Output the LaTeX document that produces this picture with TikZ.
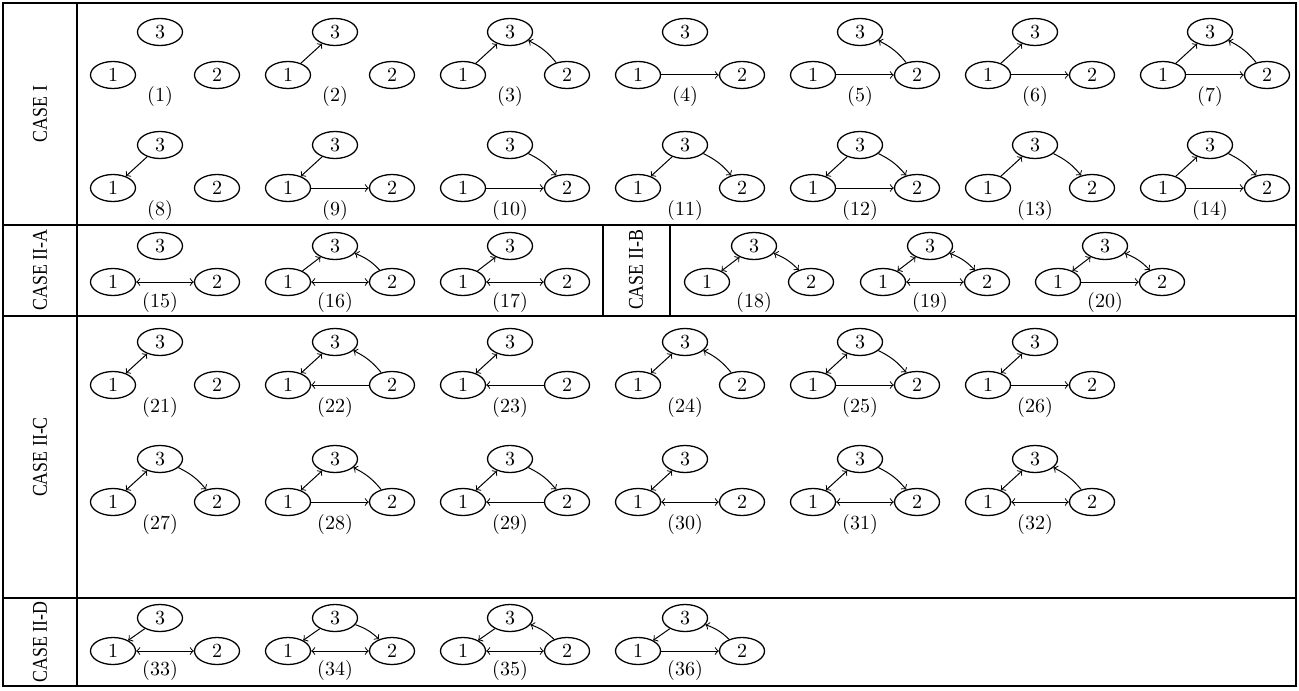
\documentclass[tikz,border=0pt]{standalone}
\usepackage{fontspec}
\newfontfamily\casefont{Liberation Serif}
\usetikzlibrary{shapes.geometric}
\tikzset{
  vtx/.style={draw,ellipse,line width=0.65pt,minimum width=22.5pt,minimum height=13.5pt,inner sep=0pt,font=\fontsize{10}{11}\selectfont},
  lbl/.style={inner sep=0pt,font=\fontsize{10}{11}\selectfont},
  arr/.style={line width=0.5pt},
  frame/.style={line width=0.55pt},
  casel/.style={rotate=90,inner sep=0pt,font=\casefont\fontsize{10.5}{12}\selectfont}
}
% name, x of node 1, y of nodes 1 2, label, rise of node 3, drop of label
\newcommand\gr[6]{%
  \node[vtx] (#1a) at (#2,#3) {1};
  \node[vtx] (#1b) at (#2+104,#3) {2};
  \node[vtx] (#1c) at (#2+47,#3-#5) {3};
  \node[lbl] (#1l) at (#2+47,#3+#6) {(#4)};
}
\newcommand\eAC[1]{\draw[arr,->] (#1a) -- (#1c);}
\newcommand\eCA[1]{\draw[arr,->] (#1c) -- (#1a);}
\newcommand\eACb[1]{\draw[arr,<->] (#1a) -- (#1c);}
\newcommand\eBC[1]{\draw[arr,->] (#1b) to[bend right=12] (#1c);}
\newcommand\eCB[1]{\draw[arr,->] (#1c) to[bend left=12] (#1b);}
\newcommand\eBCb[1]{\draw[arr,<->] (#1c) to[bend left=12] (#1b);}
\newcommand\eAB[1]{\draw[arr,->] (#1a) -- (#1b);}
\newcommand\eBA[1]{\draw[arr,->] (#1b) -- (#1a);}
\newcommand\eABb[1]{\draw[arr,<->] (#1a) -- (#1b);}
\begin{document}
\begin{tikzpicture}[x=0.5pt,y=-0.5pt]
\useasboundingbox (0,0) rectangle (1299,690);
% table
\draw[frame] (3,3) rectangle (1296,686);
\draw[frame] (77,3) -- (77,686);
\draw[frame] (3,225) -- (1296,225);
\draw[frame] (3,316) -- (1296,316);
\draw[frame] (3,598) -- (1296,598);
\draw[frame] (603,225) -- (603,316);
\draw[frame] (670,225) -- (670,316);
\node[casel] (c1) at (40,114) {\scalebox{0.85}[1]{CASE I}};
\node[casel] (c2) at (40,270) {\scalebox{0.85}[1]{CASE II-A}};
\node[casel] (c3) at (636,270) {\scalebox{0.85}[1]{CASE II-B}};
\node[casel] (c4) at (40,457) {\scalebox{0.85}[1]{CASE II-C}};
\node[casel] (c5) at (40,642) {\scalebox{0.85}[1]{CASE II-D}};
% CASE I row 1
\gr{g1}{113}{75}{1}{43}{22}
\gr{g2}{288}{75}{2}{43}{22} \eAC{g2}
\gr{g3}{463}{75}{3}{43}{22} \eAC{g3} \eBC{g3}
\gr{g4}{638}{75}{4}{43}{22} \eAB{g4}
\gr{g5}{813}{75}{5}{43}{22} \eAB{g5} \eBC{g5}
\gr{g6}{988}{75}{6}{43}{22} \eAC{g6} \eAB{g6}
\gr{g7}{1163}{75}{7}{43}{22} \eAC{g7} \eAB{g7} \eBC{g7}
% CASE I row 2
\gr{g8}{113}{188}{8}{43}{22} \eCA{g8}
\gr{g9}{288}{188}{9}{43}{22} \eCA{g9} \eAB{g9}
\gr{g10}{463}{188}{10}{43}{22} \eCB{g10} \eAB{g10}
\gr{g11}{638}{188}{11}{43}{22} \eCA{g11} \eCB{g11}
\gr{g12}{813}{188}{12}{43}{22} \eCA{g12} \eCB{g12} \eAB{g12}
\gr{g13}{988}{188}{13}{43}{22} \eAC{g13} \eCB{g13}
\gr{g14}{1163}{188}{14}{43}{22} \eAC{g14} \eCB{g14} \eAB{g14}
% CASE II-A
\gr{g15}{113}{282}{15}{36}{20} \eABb{g15}
\gr{g16}{288}{282}{16}{36}{20} \eAC{g16} \eBC{g16} \eABb{g16}
\gr{g17}{463}{282}{17}{36}{20} \eAC{g17} \eABb{g17}
% CASE II-B
\gr{g18}{707}{282}{18}{36}{20} \eACb{g18} \eBCb{g18}
\gr{g19}{883}{282}{19}{36}{20} \eACb{g19} \eBCb{g19} \eABb{g19}
\gr{g20}{1058}{282}{20}{36}{20} \eACb{g20} \eBCb{g20} \eAB{g20}
% CASE II-C row 1
\gr{g21}{113}{385}{21}{43}{22} \eACb{g21}
\gr{g22}{288}{385}{22}{43}{22} \eACb{g22} \eBC{g22} \eBA{g22}
\gr{g23}{463}{385}{23}{43}{22} \eACb{g23} \eBA{g23}
\gr{g24}{638}{385}{24}{43}{22} \eACb{g24} \eBC{g24}
\gr{g25}{813}{385}{25}{43}{22} \eACb{g25} \eCB{g25} \eAB{g25}
\gr{g26}{988}{385}{26}{43}{22} \eACb{g26} \eAB{g26}
% CASE II-C row 2
\gr{g27}{113}{502}{27}{43}{22} \eACb{g27} \eCB{g27}
\gr{g28}{288}{502}{28}{43}{22} \eACb{g28} \eBC{g28} \eAB{g28}
\gr{g29}{463}{502}{29}{43}{22} \eACb{g29} \eCB{g29} \eBA{g29}
\gr{g30}{638}{502}{30}{43}{22} \eACb{g30} \eABb{g30}
\gr{g31}{813}{502}{31}{43}{22} \eACb{g31} \eCB{g31} \eABb{g31}
\gr{g32}{988}{502}{32}{43}{22} \eACb{g32} \eBC{g32} \eABb{g32}
% CASE II-D
\gr{g33}{113}{651}{33}{33}{19} \eCA{g33} \eABb{g33}
\gr{g34}{288}{651}{34}{33}{19} \eCA{g34} \eCB{g34} \eABb{g34}
\gr{g35}{463}{651}{35}{33}{19} \eCA{g35} \eBC{g35} \eABb{g35}
\gr{g36}{638}{651}{36}{33}{19} \eCA{g36} \eBC{g36} \eAB{g36}
\end{tikzpicture}
\end{document}
